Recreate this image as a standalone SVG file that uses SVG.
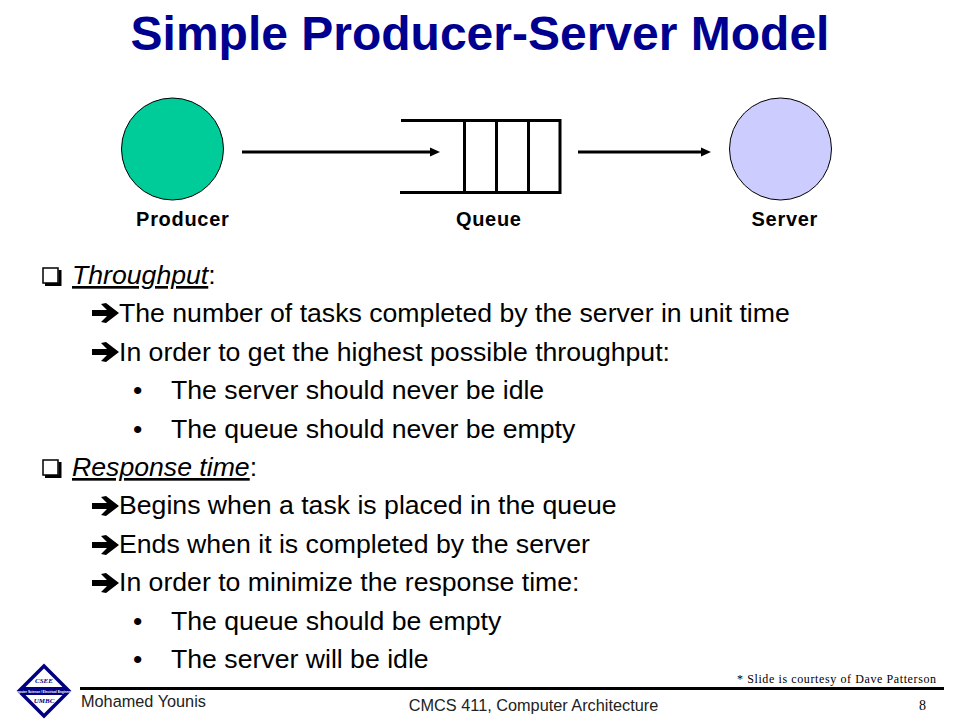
<svg xmlns="http://www.w3.org/2000/svg" width="960" height="720" viewBox="0 0 960 720">
<style>
text{font-family:"Liberation Sans",Arial,sans-serif;fill:#000}
.t{font-size:26.65px}
.lb{font-size:20px;letter-spacing:.7px;font-weight:bold;text-anchor:middle}
.l{stroke:#000;stroke-width:3;fill:none}
.a{stroke:#000;stroke-width:3;fill:none;marker-end:url(#ah)}
.s{font-family:"Liberation Serif",serif;font-size:12px}
.f{font-size:16.3px;fill:#222}
.lg{font-family:"Liberation Serif",serif;font-weight:bold;font-style:italic;font-size:7px;text-anchor:middle;fill:#000080}
</style>
<defs>
<marker id="ah" markerUnits="userSpaceOnUse" markerWidth="12" markerHeight="12" refX="5" refY="6" orient="auto"><path d="M0 1.500L10 6L0 10.500Z" fill="#000"/></marker>
<g id="sq"><rect x="1" y="1" width="15" height="15" fill="none" stroke="#000" stroke-width="1.500"/><path d="M3 17.500H18V3" fill="none" stroke="#000" stroke-width="3"/></g>
<path id="ar" d="M0 -3H15L9 -9L14 -10L27 0L14 10L9 9L15 3H0Z" fill="#000"/>
</defs>
<rect width="960" height="720" fill="#fff"/>
<text id="title" x="480" y="50" text-anchor="middle" font-size="48" font-weight="bold" style="fill:#000090">Simple Producer-Server Model</text>
<g id="connectors">
<path class="a" d="M242 152H435"/>
<path class="a" d="M578 152H706"/>
</g>
<g id="producer"><circle cx="172.500" cy="149" r="51" fill="#00cc99" stroke="#000" stroke-width="1"/><text class="lb" x="182.800" y="226">Producer</text></g>
<g id="queue">
<path class="l" d="M401 120.500H560V192.500H400"/>
<path class="l" d="M464.500 120V192M496.500 120V192M528.500 120V192"/>
<text class="lb" x="488.800" y="226">Queue</text>
</g>
<g id="server"><circle cx="780.500" cy="149" r="51" fill="#ccccff" stroke="#000" stroke-width="1"/><text class="lb" x="784.800" y="226">Server</text></g>
<g id="body">
<use href="#sq" x="42" y="267"/>
<text class="t" x="72" y="284"><tspan font-style="italic" text-decoration="underline">Throughput</tspan>:</text>
<use href="#ar" x="92" y="313"/><text class="t" x="119" y="322">The number of tasks completed by the server in unit time</text>
<use href="#ar" x="92" y="352"/><text class="t" x="119" y="361">In order to get the highest possible throughput:</text>
<text class="t" x="133" y="399">•</text><text class="t" x="171" y="399">The server should never be idle</text>
<text class="t" x="133" y="438">•</text><text class="t" x="171" y="438">The queue should never be empty</text>
<use href="#sq" x="42" y="459"/>
<text class="t" x="72" y="476"><tspan font-style="italic" text-decoration="underline">Response time</tspan>:</text>
<use href="#ar" x="92" y="506"/><text class="t" x="119" y="514">Begins when a task is placed in the queue</text>
<use href="#ar" x="92" y="545"/><text class="t" x="119" y="553">Ends when it is completed by the server</text>
<use href="#ar" x="92" y="583"/><text class="t" x="119" y="591">In order to minimize the response time:</text>
<text class="t" x="133" y="630">•</text><text class="t" x="171" y="630">The queue should be empty</text>
<text class="t" x="133" y="668">•</text><text class="t" x="171" y="668">The server will be idle</text>
</g>
<g id="footer">
<path d="M80 688.500H944" stroke="#000" stroke-width="3"/>
<text class="f" x="81" y="707">Mohamed Younis</text>
<text class="f" x="533.500" y="711" text-anchor="middle">CMCS 411, Computer Architecture</text>
<text class="s" x="737" y="683" textLength="199">* Slide is courtesy of Dave Patterson</text>
<text x="919" y="710" font-size="14" style="font-family:'Liberation Serif',serif">8</text>
</g>
<g id="logo">
<path d="M44 666L69 691L44 716L19 691Z" fill="#fff" stroke="#000080" stroke-width="3.500"/>
<path d="M23 687H65L69 691L65 695H23L19 691Z" fill="#000080"/>
<text class="lg" x="44" y="683">CSEE</text>
<text class="lg" x="44" y="703">UMBC</text>
<text x="44" y="692.500" text-anchor="middle" font-size="3.200" font-weight="bold" style="fill:#fff">Computer Science / Electrical Engineering</text>
</g>
</svg>
